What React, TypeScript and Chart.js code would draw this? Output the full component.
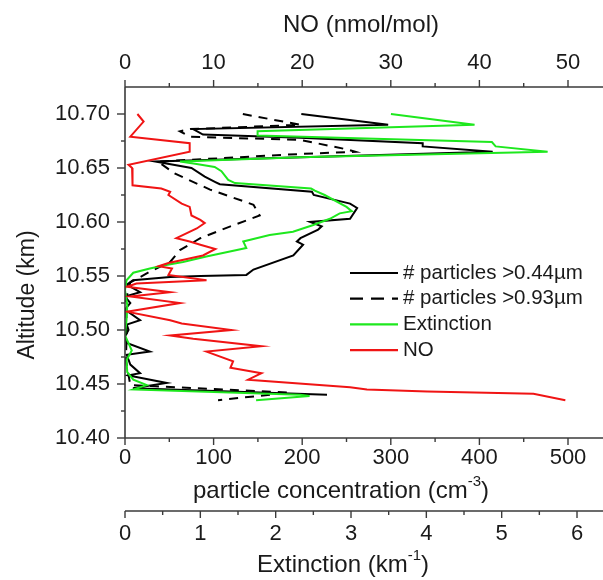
import React, { useEffect, useRef } from "react";
import { Chart, registerables } from "chart.js";

Chart.register(...registerables);

const FONT_FAMILY = "'Liberation Sans', Arial, Helvetica, sans-serif";

// ---------------- data ----------------
// NO (nmol/mol) profile
const noAltitude = [10.700, 10.693, 10.679, 10.673, 10.665, 10.653, 10.650, 10.648, 10.634, 10.631, 10.628, 10.625, 10.617, 10.614, 10.606, 10.602, 10.599, 10.594, 10.585, 10.582, 10.579, 10.575, 10.569, 10.565, 10.562, 10.559, 10.557, 10.551, 10.546, 10.543, 10.540, 10.535, 10.531, 10.525, 10.517, 10.509, 10.506, 10.500, 10.495, 10.492, 10.485, 10.480, 10.471, 10.465, 10.460, 10.454, 10.447, 10.445, 10.443, 10.441, 10.435];
const noValue = [1.4, 2.1, 0.6, 7.3, 7.3, 0.4, 0.8, 0.9, 0.8, 4.1, 5.1, 4.9, 6.4, 7.3, 7.5, 8.5, 9.0, 8.1, 5.8, 7.3, 8.5, 10.2, 8.8, 6.6, 4.9, 3.8, 5.3, 4.9, 9.2, 1.3, 0.2, 5.1, 0.6, 6.2, 0.2, 5.1, 6.4, 12.0, 5.1, 7.7, 15.4, 9.2, 12.2, 11.9, 15.4, 13.9, 25.4, 27.3, 34.1, 46.1, 49.7];

// particles > 0.44 um (cm-3)
const p044Altitude = [10.700, 10.690, 10.686, 10.681, 10.678, 10.673, 10.670, 10.665, 10.656, 10.650, 10.642, 10.637, 10.635, 10.628, 10.625, 10.617, 10.613, 10.603, 10.600, 10.596, 10.593, 10.585, 10.582, 10.579, 10.569, 10.556, 10.551, 10.550, 10.549, 10.546, 10.542, 10.535, 10.531, 10.525, 10.519, 10.509, 10.505, 10.500, 10.494, 10.488, 10.480, 10.477, 10.468, 10.460, 10.458, 10.451, 10.446, 10.440];
const p044Value = [199, 297, 77, 88, 198, 336, 336, 415, 34, 75, 90, 102, 107, 211, 213, 254, 262, 254, 209, 222, 218, 198, 194, 201, 190, 145, 137, 85, 51, 9, 2, 17, 0, 6, 0, 17, 2, 4, 0, 2, 28, 2, 6, 17, 4, 47, 9, 228];

// particles > 0.93 um (cm-3)
const p093Altitude = [10.700, 10.690, 10.686, 10.684, 10.679, 10.676, 10.667, 10.665, 10.663, 10.656, 10.645, 10.630, 10.616, 10.606, 10.596, 10.585, 10.574, 10.563, 10.554, 10.544, 10.528, 10.500, 10.472, 10.449, 10.442, 10.435];
const p093Value = [133, 198, 73, 62, 73, 198, 252, 260, 198, 37, 56, 96, 145, 152, 119, 85, 62, 51, 28, 6, 1, 2, 1, 6, 186, 105];

// Extinction (km-1)
const extAltitude = [10.700, 10.690, 10.684, 10.680, 10.674, 10.670, 10.665, 10.660, 10.656, 10.654, 10.651, 10.647, 10.639, 10.636, 10.631, 10.629, 10.625, 10.614, 10.610, 10.608, 10.603, 10.597, 10.591, 10.588, 10.582, 10.576, 10.568, 10.563, 10.560, 10.557, 10.553, 10.546, 10.537, 10.523, 10.509, 10.495, 10.481, 10.472, 10.461, 10.454, 10.449, 10.445, 10.440, 10.439, 10.435];
const extValue = [3.53, 4.64, 1.76, 1.76, 4.87, 4.92, 5.61, 2.32, 0.73, 0.93, 1.19, 1.28, 1.37, 1.46, 2.47, 2.52, 2.65, 2.94, 3.01, 2.85, 2.72, 2.49, 2.23, 1.92, 1.57, 1.61, 1.08, 0.77, 0.53, 0.33, 0.11, 0.02, 0.0, 0.03, 0.02, 0.0, 0.09, 0.02, 0.03, 0.11, 0.29, 0.11, 2.32, 2.45, 1.74];

// axis ticks
const particleTicks = [0, 100, 200, 300, 400, 500];
const noTicks = [0, 10, 20, 30, 40, 50];
const extTicks = [0, 1, 2, 3, 4, 5, 6];
const altitudeTicks = [10.40, 10.45, 10.50, 10.55, 10.60, 10.65, 10.70];

const legendLabels = ["# particles >0.44\u00b5m", "# particles >0.93\u00b5m", "Extinction", "NO"];

// ---------------- styling ----------------
const COL_BLACK = "#000000";
const COL_GREEN = "#1ee81e";
const COL_RED = "#f01414";
const AXIS_COLOR = "#3a3a3a";
const TEXT_COLOR = "#1a1a1a";

const toPoints = (vals: number[], alts: number[]) => vals.map((v, i) => ({ x: v, y: alts[i] }));

function strokeLine(ctx: CanvasRenderingContext2D, x1: number, y1: number, x2: number, y2: number) {
  ctx.beginPath();
  ctx.moveTo(x1, y1);
  ctx.lineTo(x2, y2);
  ctx.stroke();
}

type Part = { t: string; sup?: boolean };
function drawRich(ctx: CanvasRenderingContext2D, parts: Part[], cx: number, cy: number, size: number) {
  const supSize = Math.round(size * 0.62);
  let w = 0;
  const widths = parts.map((p) => {
    ctx.font = `${p.sup ? supSize : size}px ${FONT_FAMILY}`;
    const m = ctx.measureText(p.t).width;
    w += m;
    return m;
  });
  let x = cx - w / 2;
  ctx.textAlign = "left";
  ctx.textBaseline = "middle";
  parts.forEach((p, i) => {
    ctx.font = `${p.sup ? supSize : size}px ${FONT_FAMILY}`;
    ctx.fillText(p.t, x, p.sup ? cy - size * 0.38 : cy);
    x += widths[i];
  });
}

const decorPlugin = {
  id: "decor",
  afterDraw(chart: any) {
    const ctx: CanvasRenderingContext2D = chart.ctx;
    const area = chart.chartArea;
    const sP = chart.scales.xP;
    const sE = chart.scales.xE;
    const sN = chart.scales.xNO;
    const sY = chart.scales.y;
    const extY = sE.top;
    ctx.save();
    ctx.strokeStyle = AXIS_COLOR;
    ctx.lineWidth = 1.6;
    strokeLine(ctx, area.left, area.top, area.right, area.top);
    strokeLine(ctx, area.left, area.bottom, area.right, area.bottom);
    strokeLine(ctx, area.left, area.top, area.left, area.bottom);
    strokeLine(ctx, area.left, extY, area.right, extY);

    const MAJ = 7;
    const MIN = 4;
    ctx.lineWidth = 1.4;
    const hTicks = (scale: any, majors: number[], yBase: number, dir: number) => {
      const step = majors[1] - majors[0];
      majors.forEach((v) => {
        const x = scale.getPixelForValue(v);
        strokeLine(ctx, x, yBase, x, yBase + dir * MAJ);
        const m = v + step / 2;
        if (m < scale.max) {
          const xm = scale.getPixelForValue(m);
          strokeLine(ctx, xm, yBase, xm, yBase + dir * MIN);
        }
      });
    };
    hTicks(sP, particleTicks, area.bottom, 1);
    hTicks(sN, noTicks, area.top, -1);
    hTicks(sE, extTicks, extY, 1);
    const yStep = altitudeTicks[1] - altitudeTicks[0];
    altitudeTicks.forEach((v) => {
      const y = sY.getPixelForValue(v);
      strokeLine(ctx, area.left, y, area.left - 8, y);
      const m = v + yStep / 2;
      if (m < sY.max - 1e-6) {
        const ym = sY.getPixelForValue(m);
        strokeLine(ctx, area.left, ym, area.left - MIN, ym);
      }
    });

    // legend
    const styles = [
      { c: COL_BLACK, d: [] as number[] },
      { c: COL_BLACK, d: [13, 8] },
      { c: COL_GREEN, d: [] as number[] },
      { c: COL_RED, d: [] as number[] },
    ];
    ctx.font = `20.5px ${FONT_FAMILY}`;
    ctx.textAlign = "left";
    ctx.textBaseline = "middle";
    legendLabels.forEach((lab, i) => {
      const y = 273 + i * 25.7;
      ctx.strokeStyle = styles[i].c;
      ctx.lineWidth = 2.2;
      ctx.setLineDash(styles[i].d);
      strokeLine(ctx, 350, y, 398, y);
      ctx.setLineDash([]);
      ctx.fillStyle = TEXT_COLOR;
      ctx.fillText(lab, 403, y);
    });

    // axis titles
    ctx.fillStyle = TEXT_COLOR;
    drawRich(ctx, [{ t: "NO (nmol/mol)" }], 361, 25, 24);
    drawRich(ctx, [{ t: "particle concentration (cm" }, { t: "-3", sup: true }, { t: ")" }], 341, 491, 24);
    drawRich(ctx, [{ t: "Extinction (km" }, { t: "-1", sup: true }, { t: ")" }], 343, 565, 24);
    ctx.save();
    ctx.translate(28, 295);
    ctx.rotate(-Math.PI / 2);
    drawRich(ctx, [{ t: "Altitude (km)" }], 0, 0, 23);
    ctx.restore();
    ctx.restore();
  },
};

export default function App() {
  const ref = useRef<HTMLCanvasElement | null>(null);

  useEffect(() => {
    if (!ref.current) return;
    const tickFont = { family: FONT_FAMILY, size: 22 };
    const hGrid = { display: false, drawTicks: true, tickLength: 7 };
    const setTicks = (vals: number[]) => (scale: any) => {
      scale.ticks = vals.map((v) => ({ value: v }));
    };
    const chart = new Chart(ref.current, {
      type: "line",
      data: {
        datasets: [
          {
            label: legendLabels[3],
            data: toPoints(noValue, noAltitude),
            xAxisID: "xNO",
            yAxisID: "y",
            borderColor: COL_RED,
            borderWidth: 2,
            order: 0,
          },
          {
            label: legendLabels[2],
            data: toPoints(extValue, extAltitude),
            xAxisID: "xE",
            yAxisID: "y",
            borderColor: COL_GREEN,
            borderWidth: 2,
            order: 1,
          },
          {
            label: legendLabels[1],
            data: toPoints(p093Value, p093Altitude),
            xAxisID: "xP",
            yAxisID: "y",
            borderColor: COL_BLACK,
            borderWidth: 2,
            borderDash: [9, 7],
            order: 2,
          },
          {
            label: legendLabels[0],
            data: toPoints(p044Value, p044Altitude),
            xAxisID: "xP",
            yAxisID: "y",
            borderColor: COL_BLACK,
            borderWidth: 2,
            order: 3,
          },
        ],
      },
      options: {
        responsive: false,
        maintainAspectRatio: false,
        animation: false,
        layout: { padding: 0 },
        elements: { point: { radius: 0, hoverRadius: 0 }, line: { tension: 0, fill: false } },
        plugins: { legend: { display: false }, tooltip: { enabled: false }, title: { display: false } },
        scales: {
          y: {
            type: "linear",
            position: "left",
            min: 10.4,
            max: 10.725,
            afterBuildTicks: setTicks(altitudeTicks),
            ticks: { font: tickFont, color: TEXT_COLOR, padding: 7, callback: (v: any) => Number(v).toFixed(2) },
            grid: { display: false, drawTicks: true, tickLength: 8 },
            border: { display: false },
            afterFit: (s: any) => {
              s.width = 125;
            },
          },
          xNO: {
            type: "linear",
            position: "top",
            min: 0,
            max: 53.95,
            afterBuildTicks: setTicks(noTicks),
            ticks: { font: tickFont, color: TEXT_COLOR, padding: 4, maxRotation: 0, autoSkip: false },
            grid: hGrid,
            border: { display: false },
            afterFit: (s: any) => {
              s.height = 87;
            },
          },
          xP: {
            type: "linear",
            position: "bottom",
            weight: 0,
            min: 0,
            max: 539.5,
            afterBuildTicks: setTicks(particleTicks),
            ticks: { font: tickFont, color: TEXT_COLOR, padding: 0, maxRotation: 0, autoSkip: false },
            grid: hGrid,
            border: { display: false },
            afterFit: (s: any) => {
              s.height = 73;
            },
          },
          xE: {
            type: "linear",
            position: "bottom",
            weight: 1,
            min: 0,
            max: 6.345,
            afterBuildTicks: setTicks(extTicks),
            ticks: { font: tickFont, color: TEXT_COLOR, padding: 3, maxRotation: 0, autoSkip: false },
            grid: hGrid,
            border: { display: false },
            afterFit: (s: any) => {
              s.height = 69;
            },
          },
        },
      } as any,
      plugins: [decorPlugin],
    });
    return () => chart.destroy();
  }, []);

  return (
    <div style={{ position: "absolute", left: 0, top: 0, width: 603, height: 580, background: "#ffffff" }}>
      <canvas ref={ref} width={603} height={580} style={{ display: "block", width: 603, height: 580 }} />
    </div>
  );
}
